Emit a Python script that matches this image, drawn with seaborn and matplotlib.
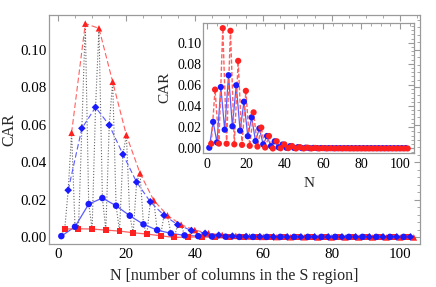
import numpy as np
import pandas as pd
import matplotlib
matplotlib.use("Agg")
import matplotlib.pyplot as plt
from matplotlib.ticker import MultipleLocator
import seaborn as sns

# ---- data ----
N_circ = list(range(1, 105, 4))   # blue circles, solid blue
car_circ = [0.0005, 0.0055, 0.0176, 0.0208, 0.0167, 0.0114, 0.0068, 0.0037,
            0.0020, 0.0009, 0.0005, 0.0003, 0.0002, 0.0001, 0.0001, 0.0001,
            0.0001, 0.0001, 0.0001, 0.0001, 0.0001, 0.0001, 0.0001, 0.0001,
            0.0001, 0.0001]
N_sq = list(range(2, 105, 4))     # red squares, solid red
car_sq = [0.0043, 0.0044, 0.0043, 0.0037, 0.0032, 0.0023, 0.0016, 0.0007,
          -0.0002, 0.0000, 0.0001, -0.0002, -0.0002, -0.0002, -0.0002, -0.0002,
          -0.0002, -0.0002, -0.0002, -0.0002, -0.0002, -0.0002, -0.0002, -0.0002,
          -0.0002, -0.0002]
N_dia = list(range(3, 105, 4))    # blue diamonds, dashed blue
car_dia = [0.0250, 0.0580, 0.0692, 0.0597, 0.0441, 0.0293, 0.0188, 0.0116,
           0.0066, 0.0035, 0.0020, 0.0010, 0.0005, 0.0003, 0.0002, 0.0001,
           0.0001, 0.0001, 0.0001, 0.0001, 0.0001, 0.0001, 0.0001, 0.0001,
           0.0001, 0.0001]
N_tri = list(range(4, 105, 4))    # red triangles, dashed red
car_tri = [0.0556, 0.1138, 0.1113, 0.0828, 0.0544, 0.0340, 0.0196, 0.0116,
           0.0066, 0.0037, 0.0021, 0.0011, 0.0006, 0.0003, 0.0001, 0.0000,
           -0.0001, -0.0001, -0.0002, -0.0002, -0.0002, -0.0002, -0.0002, -0.0002,
           -0.0002, -0.0002]

xticks = [0, 20, 40, 60, 80, 100]
yticks = [0.00, 0.02, 0.04, 0.06, 0.08, 0.10]

# ---- tables ----
df_c = pd.DataFrame({"N": N_circ, "CAR": car_circ})
df_s = pd.DataFrame({"N": N_sq, "CAR": car_sq})
df_d = pd.DataFrame({"N": N_dia, "CAR": car_dia})
df_t = pd.DataFrame({"N": N_tri, "CAR": car_tri})
df_all = pd.concat([df_c, df_s, df_d, df_t]).sort_values("N").reset_index(drop=True)
df_odd = df_all[df_all["N"] % 2 == 1]
df_even = df_all[df_all["N"] % 2 == 0]

sns.set_style("white")
plt.rcParams['font.family'] = ['Liberation Serif', 'DejaVu Serif']
plt.rcParams['mathtext.fontset'] = 'stix'

RED = "#ff2020"
BLUE = "#1a1aff"
RED_L = "#ff6060"
BLUE_L = "#5a5aff"
FRAME = "#9a9a9a"

fig = plt.figure(figsize=(4.36, 2.87), dpi=100)
ax = fig.add_axes([0.1124, 0.1498, 0.8509, 0.7979])

def style_axes(a, xminor, yminor, fs, xpad=3, ypad=1.5):
    for s in a.spines.values():
        s.set_color(FRAME)
        s.set_linewidth(0.9)
    a.xaxis.set_minor_locator(MultipleLocator(xminor))
    a.yaxis.set_minor_locator(MultipleLocator(yminor))
    a.tick_params(which="both", direction="in", top=True, right=True,
                  color=FRAME, labelsize=fs, labelcolor="black")
    a.tick_params(axis="x", which="both", pad=xpad)
    a.tick_params(axis="y", which="both", pad=ypad)
    a.tick_params(which="major", length=4, width=0.8)
    a.tick_params(which="minor", length=2, width=0.6)
    a.grid(False)

# gray dotted zig-zag through all points
sns.lineplot(data=df_all, x="N", y="CAR", ax=ax, sort=False, estimator=None,
             color="#666666", linestyle=(0, (1, 1.6)), linewidth=0.8, zorder=1)
# envelopes
sns.lineplot(data=df_t, x="N", y="CAR", ax=ax, sort=False, estimator=None,
             color=RED_L, linestyle=(0, (5, 2.5)), linewidth=0.8, zorder=2)
sns.lineplot(data=df_d, x="N", y="CAR", ax=ax, sort=False, estimator=None,
             color=BLUE_L, linestyle=(0, (5, 2.5)), linewidth=0.8, zorder=2)
sns.lineplot(data=df_c, x="N", y="CAR", ax=ax, sort=False, estimator=None,
             color=BLUE_L, linewidth=0.9, zorder=2)
sns.lineplot(data=df_s, x="N", y="CAR", ax=ax, sort=False, estimator=None,
             color=RED_L, linewidth=0.9, zorder=2)
# markers
sns.scatterplot(data=df_s, x="N", y="CAR", ax=ax, marker="s", s=18,
                color=RED, edgecolor="none", zorder=3)
sns.scatterplot(data=df_t, x="N", y="CAR", ax=ax, marker="^", s=22,
                color=RED, edgecolor="none", zorder=3)
sns.scatterplot(data=df_d, x="N", y="CAR", ax=ax, marker="D", s=15,
                color=BLUE, edgecolor="none", zorder=4)
sns.scatterplot(data=df_c, x="N", y="CAR", ax=ax, marker="o", s=22,
                color=BLUE, edgecolor="none", zorder=4)

ax.set_xlim(-2.6, 105.8)
ax.set_ylim(-0.0037, 0.1184)
ax.set_xticks(xticks)
ax.set_yticks(yticks)
ax.set_xticklabels([str(v) for v in xticks])
ax.set_yticklabels([f"{v:.2f}" for v in yticks])
style_axes(ax, 5, 0.004, 10.8, xpad=3, ypad=1.5)
ax.set_xlabel("N [number of columns in the S region]", fontsize=11.5, labelpad=5)
ax.set_ylabel("CAR", fontsize=11.5)
ax.yaxis.set_label_coords(-0.086, 0.5)

# ---- inset ----
ins = fig.add_axes([0.4663, 0.468, 0.4833, 0.4530])
ins.set_facecolor("white")
sns.lineplot(data=df_odd, x="N", y="CAR", ax=ins, sort=False, estimator=None,
             color=BLUE_L, linewidth=0.9, zorder=2)
sns.lineplot(data=df_even, x="N", y="CAR", ax=ins, sort=False, estimator=None,
             color=RED_L, linestyle=(0, (3, 1.5)), linewidth=1.0, zorder=2)
sns.scatterplot(data=df_odd, x="N", y="CAR", ax=ins, marker="o", s=20,
                color=BLUE, edgecolor="none", zorder=3)
sns.scatterplot(data=df_even, x="N", y="CAR", ax=ins, marker="o", s=20,
                color=RED, edgecolor="none", zorder=4)
ins.set_xlim(-2.1, 107.3)
ins.set_ylim(-0.0042, 0.119)
ins.set_xticks(xticks)
ins.set_yticks(yticks)
ins.set_xticklabels([str(v) for v in xticks])
ins.set_yticklabels([f"{v:.2f}" for v in yticks])
style_axes(ins, 5, 0.004, 10, xpad=4, ypad=1.5)
ins.set_xlabel("N", fontsize=11, labelpad=4)
ins.set_ylabel("CAR", fontsize=11, labelpad=4)

fig.savefig("out.png", dpi=100)
